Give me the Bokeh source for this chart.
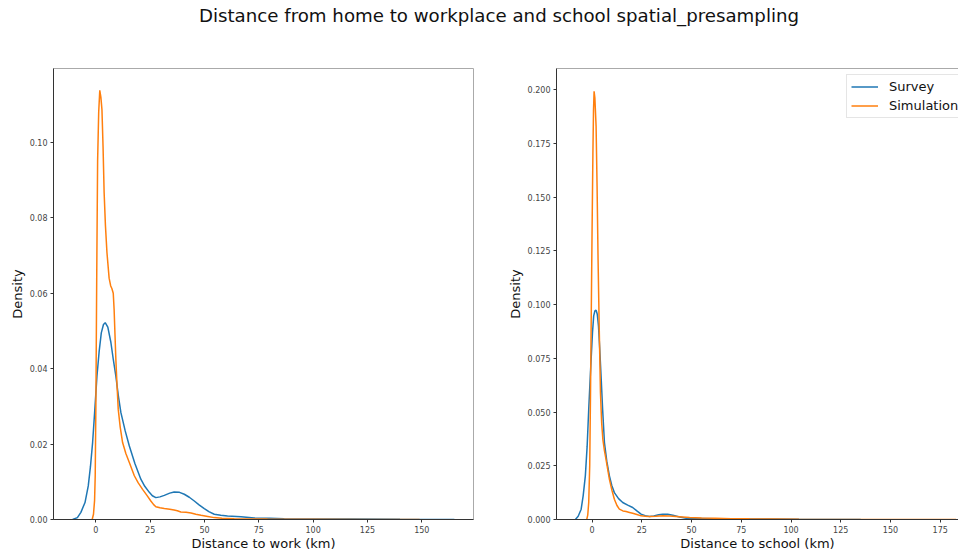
from bokeh.plotting import figure
from bokeh.models import Range1d, FixedTicker, Div, Legend, LegendItem, LinearAxis, NumeralTickFormatter
from bokeh.layouts import column, row
from bokeh.embed import file_html
from bokeh.resources import INLINE

# ---------------- data ----------------
title_text = "Distance from home to workplace and school spatial_presampling"
series_names = ["Survey", "Simulation"]

work_survey_x = [-10.7, -8.5, -6.9, -5.0, -3.5, -2.5, -1.5, -0.5, 0.5, 1.5, 2.5, 3.5, 4.3, 5.5, 6.9, 8.0, 9.2,
                 10.3, 11.5, 13.5, 15.4, 18.0, 20.7, 22.5, 24.6, 26.0, 27.6, 29.5, 31.5, 34.0, 36.0, 38.5,
                 40.7, 43.0, 45.3, 47.5, 49.9, 52.0, 54.5, 57.5, 60.6, 66.8, 72.9, 80.0, 86.7, 100.0, 117.0,
                 140.0, 165.0]
work_survey_y = [0.0, 0.0005, 0.0019, 0.0045, 0.0089, 0.0140, 0.0204, 0.0290, 0.0380, 0.0445, 0.0495, 0.0517,
                 0.0522, 0.0510, 0.0470, 0.0425, 0.0380, 0.0330, 0.0284, 0.0235, 0.0195, 0.0148, 0.0107,
                 0.0088, 0.0072, 0.0063, 0.0058, 0.0060, 0.0064, 0.0070, 0.0073, 0.0072, 0.0067, 0.0059,
                 0.0049, 0.0039, 0.0029, 0.0021, 0.0014, 0.0011, 0.0009, 0.0007, 0.0004, 0.0003, 0.0002,
                 0.00015, 0.0001, 0.00005, 0.0]

work_sim_x = [-1.7, -1.1, -0.6, -0.3, 0.0, 0.4, 0.8, 1.3, 1.8, 2.3, 2.8, 3.3, 3.8, 4.4, 5.1, 6.1, 6.8, 7.4,
              8.0, 8.4, 8.8, 9.2, 9.7, 10.3, 11.2, 12.3, 13.8, 15.4, 17.7, 19.5, 21.5, 23.5, 25.3, 26.5, 27.6,
              29.5, 31.5, 34.0, 36.0, 37.5, 39.1, 41.5, 43.8, 46.0, 48.4, 51.5, 54.5, 58.0, 63.7, 70.0, 79.0,
              100.0, 125.0, 149.0]
work_sim_y = [0.0, 0.0014, 0.0050, 0.0116, 0.0300, 0.0650, 0.0950, 0.1080, 0.1138, 0.1120, 0.1087, 0.0990,
              0.0867, 0.0780, 0.0708, 0.0640, 0.0620, 0.0612, 0.0600, 0.0557, 0.0490, 0.0425, 0.0360, 0.0292,
              0.0245, 0.0204, 0.0175, 0.0151, 0.0116, 0.0097, 0.0080, 0.0064, 0.0049, 0.0040, 0.0034, 0.0031,
              0.0029, 0.0027, 0.0025, 0.0023, 0.0020, 0.0019, 0.0017, 0.0014, 0.0011, 0.0008, 0.0005, 0.0003,
              0.0002, 0.00015, 0.0001, 0.00005, 0.00002, 0.0]

school_survey_x = [-8.4, -7.0, -5.5, -4.5, -3.4, -2.5, -1.7, -1.1, -0.5, 0.2, 0.8, 1.4, 2.0, 2.6, 3.2, 3.8,
                   4.5, 5.3, 6.2, 7.4, 8.7, 9.9, 11.2, 13.3, 15.4, 17.9, 20.4, 22.5, 24.6, 26.7, 28.8, 31.0,
                   33.5, 35.5, 38.0, 40.6, 44.0, 47.3, 54.0, 62.0, 70.0, 79.0, 90.0, 104.0, 120.0, 135.0]
school_survey_y = [0.0, 0.0015, 0.0048, 0.0110, 0.0203, 0.0340, 0.0513, 0.0630, 0.0745, 0.0870, 0.0947,
                   0.0970, 0.0974, 0.0955, 0.0900, 0.0800, 0.0668, 0.0510, 0.0358, 0.0270, 0.0203, 0.0158,
                   0.0125, 0.0097, 0.0079, 0.0067, 0.0056, 0.0040, 0.0025, 0.0018, 0.0014, 0.0016, 0.0022,
                   0.0025, 0.0024, 0.0020, 0.0012, 0.0006, 0.0005, 0.0004, 0.0004, 0.0003, 0.0002, 0.0001,
                   0.00005, 0.0]

school_sim_x = [-2.7, -2.2, -1.7, -1.2, -0.8, -0.4, 0.0, 0.4, 0.7, 1.0, 1.4, 2.0, 2.5, 3.0, 3.6, 4.2, 4.8,
                5.4, 6.2, 7.0, 7.8, 8.7, 10.0, 11.2, 12.5, 13.7, 15.5, 17.1, 18.8, 20.4, 22.5, 24.6, 26.7,
                28.8, 32.0, 35.5, 39.0, 42.2, 45.5, 49.0, 55.0, 62.0, 70.0, 79.0, 90.0, 104.0, 125.0, 150.0,
                183.0]
school_sim_y = [0.0, 0.0020, 0.0079, 0.0250, 0.0590, 0.0980, 0.1360, 0.1700, 0.1900, 0.1992, 0.1960, 0.1830,
                0.1550, 0.1210, 0.0880, 0.0590, 0.0450, 0.0373, 0.0320, 0.0280, 0.0235, 0.0187, 0.0135,
                0.0094, 0.0065, 0.0048, 0.0040, 0.0037, 0.0033, 0.0029, 0.0023, 0.0017, 0.0015, 0.0014,
                0.0015, 0.0017, 0.0016, 0.0014, 0.0012, 0.0009, 0.0007, 0.0006, 0.0004, 0.0003, 0.0002,
                0.0001, 0.00005, 0.00002, 0.0]

work_xticks = [0, 25, 50, 75, 100, 125, 150]
work_yticks = [0.00, 0.02, 0.04, 0.06, 0.08, 0.10]
school_xticks = [0, 25, 50, 75, 100, 125, 150, 175]
school_yticks = [0.000, 0.025, 0.050, 0.075, 0.100, 0.125, 0.150, 0.175, 0.200]

work_xlabel = "Distance to work (km)"
school_xlabel = "Distance to school (km)"
ylabel = "Density"

# ---------------- styling ----------------
BLUE = "#1f77b4"
ORANGE = "#ff7f0e"
FONT = "DejaVu Sans"
LW = 1.5


def style_axes(p, xticks, yticks, yfmt):
    for ax in (p.xaxis[0], p.yaxis[0]):
        ax.axis_line_color = "#333333"
        ax.axis_line_width = 1
        ax.major_tick_line_color = "#333333"
        ax.major_tick_in = 0
        ax.major_tick_out = 3
        ax.minor_tick_line_color = None
        ax.major_label_text_font = FONT
        ax.major_label_text_font_size = "8px"
        ax.major_label_text_color = "#444444"
        ax.axis_label_text_font = FONT
        ax.axis_label_text_font_size = "13px"
        ax.axis_label_text_font_style = "normal"
        ax.axis_label_text_color = "#111111"
    p.xaxis[0].ticker = FixedTicker(ticks=xticks)
    p.yaxis[0].ticker = FixedTicker(ticks=yticks)
    p.yaxis[0].formatter = NumeralTickFormatter(format=yfmt)
    p.xaxis[0].major_label_standoff = 3
    p.xaxis[0].axis_label_standoff = 0
    p.yaxis[0].major_label_standoff = 3
    p.yaxis[0].axis_label_standoff = 2
    p.xgrid.visible = False
    p.ygrid.visible = False


# ---------------- left: work ----------------
p1 = figure(frame_width=420, frame_height=451, output_backend="svg", toolbar_location=None,
            x_range=Range1d(-19.5, 173.8), y_range=Range1d(0, 0.1196),
            min_border_left=53, min_border_right=10, min_border_top=24, min_border_bottom=25,
            x_axis_label=work_xlabel, y_axis_label=ylabel)
p1.line(work_survey_x, work_survey_y, line_color=BLUE, line_width=LW)
p1.line(work_sim_x, work_sim_y, line_color=ORANGE, line_width=LW)
style_axes(p1, work_xticks, work_yticks, "0.00")
p1.outline_line_color = "#aaaaaa"
p1.outline_line_width = 1

# ---------------- right: school ----------------
p2 = figure(frame_width=402, frame_height=451, output_backend="svg", toolbar_location=None,
            x_range=Range1d(-17.9, 184.2), y_range=Range1d(0, 0.2098),
            min_border_left=73, min_border_right=0, min_border_top=24, min_border_bottom=25,
            x_axis_label=school_xlabel, y_axis_label=ylabel)
r_s = p2.line(school_survey_x, school_survey_y, line_color=BLUE, line_width=LW)
r_m = p2.line(school_sim_x, school_sim_y, line_color=ORANGE, line_width=LW)
style_axes(p2, school_xticks, school_yticks, "0.000")
p2.outline_line_color = None
top_axis = LinearAxis(ticker=FixedTicker(ticks=[]), axis_line_color="#aaaaaa",
                      major_tick_line_color=None, minor_tick_line_color=None,
                      major_label_text_font_size="0px")
p2.add_layout(top_axis, "above")

legend = Legend(items=[LegendItem(label=series_names[0], renderers=[r_s]),
                       LegendItem(label=series_names[1], renderers=[r_m])],
                location=(290, 401))
legend.label_text_font = FONT
legend.label_text_font_size = "13px"
legend.label_text_color = "#111111"
legend.glyph_width = 27
legend.glyph_height = 15
legend.label_height = 15
legend.label_standoff = 11
legend.spacing = 4
legend.padding = 4
legend.margin = 0
legend.border_line_color = "#cccccc"
legend.border_line_width = 1
legend.background_fill_alpha = 0.9
p2.add_layout(legend, "center")

title = Div(text=('<div style="box-sizing:content-box;width:914px;text-align:center;padding-left:37px;'
                  'padding-top:2px;font-family:\'DejaVu Sans\';font-size:18.2px;line-height:18px;'
                  'color:#111111;margin:0;white-space:nowrap">' + title_text + '</div>'),
            width=954, height=34)

layout = column(title, row(p1, p2))
open("out.html", "w").write(file_html(layout, INLINE))
